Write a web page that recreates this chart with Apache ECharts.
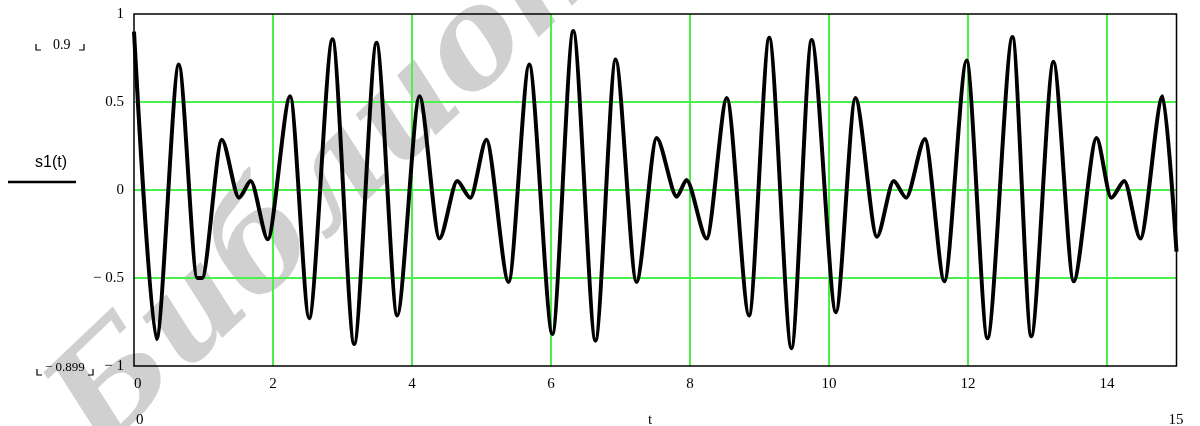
<!DOCTYPE html>
<html>
<head>
<meta charset="utf-8">
<script src="https://cdn.jsdelivr.net/npm/echarts@6/dist/echarts.min.js"></script>
<style>
html,body{margin:0;padding:0;background:#fff;}
#c{width:1200px;height:426px;}
</style>
</head>
<body>
<div id="c"></div>
<script>
// sample times (t) and values s1(t) (extrema and kinks)
const tValues = [0.00, 0.324, 0.645, 0.91, 0.98, 1.264, 1.51, 1.68, 1.925, 2.247, 2.52, 2.856, 3.168, 3.49, 3.787,
  4.108, 4.396, 4.65, 4.84, 5.07, 5.39, 5.686, 6.02, 6.32, 6.64, 6.93, 7.23, 7.52, 7.81, 7.95, 8.24, 8.53,
  8.85, 9.14, 9.46, 9.75, 10.10, 10.38, 10.69, 10.93, 11.11, 11.38, 11.66, 11.98, 12.28, 12.64, 12.91,
  13.23, 13.52, 13.85, 14.06, 14.25, 14.48, 14.80, 15.00];
const s1Values = [0.90, -0.846, 0.713, -0.50, -0.50, 0.285, -0.044, 0.051, -0.28, 0.532, -0.728, 0.856, -0.875, 0.837, -0.713,
  0.532, -0.276, 0.051, -0.044, 0.285, -0.523, 0.713, -0.818, 0.903, -0.856, 0.741, -0.523, 0.295, -0.038, 0.057, -0.276, 0.523,
  -0.713, 0.865, -0.899, 0.852, -0.694, 0.523, -0.266, 0.051, -0.044, 0.29, -0.519, 0.736, -0.842, 0.869, -0.831,
  0.728, -0.519, 0.295, -0.044, 0.051, -0.276, 0.532, -0.35];
const yTickLabels = {'1': '1', '0.5': '0.5', '0': '0', '-0.5': '\u2212 0.5', '-1': '\u2212 1'};
const xTickLabels = ['0', '2', '4', '6', '8', '10', '12', '14'];
const yMaxMark = '0.9';
const yMinMark = '\u2212 0.899';
const xMinMark = '0';
const xMaxMark = '15';
const xName = 't';
const seriesName = 's1(t)';

const chart = echarts.init(document.getElementById('c'), null, {renderer: 'canvas'});
const serif = 'Liberation Serif, Times New Roman, serif';
const data = tValues.map((t, i) => [t, s1Values[i]]);
const G = {left: 134, top: 14, right: 23.5, bottom: 60};
const green = '#4cf04c';

chart.setOption({
  animation: false,
  backgroundColor: '#fff',
  grid: {left: G.left, top: G.top, right: G.right, bottom: G.bottom, show: false},
  xAxis: {
    type: 'value', min: 0, max: 15, interval: 2,
    axisLine: {show: false}, axisTick: {show: false},
    splitLine: {show: true, showMinLine: false, showMaxLine: false, lineStyle: {color: green, width: 2}},
    axisLabel: {
      margin: 11, color: '#000', fontFamily: serif, fontSize: 15,
      formatter: v => { const s = String(v); return xTickLabels.indexOf(s) >= 0 ? (s === '0' ? '  0' : s) : ''; }
    }
  },
  yAxis: {
    type: 'value', min: -1, max: 1, interval: 0.5,
    axisLine: {show: false}, axisTick: {show: false},
    splitLine: {show: true, showMinLine: false, showMaxLine: false, lineStyle: {color: green, width: 2}},
    axisLabel: {margin: 10, color: '#000', fontFamily: serif, fontSize: 15,
      formatter: v => yTickLabels[String(v)] || ''}
  },
  graphic: [
    {type: 'text', z: -10, silent: true, rotation: 0.76, x: 122, y: 478,
      style: {text: 'Библиотека', fontSize: 135, fontFamily: 'DejaVu Serif, serif', fontStyle: 'italic', fontWeight: 'bold',
        fill: 'rgba(120,120,120,0.35)', textAlign: 'left', textVerticalAlign: 'bottom'}},
    {type: 'rect', z: 100, silent: true, shape: {x: G.left, y: G.top, width: 1200 - G.left - G.right, height: 426 - G.top - G.bottom},
      style: {fill: null, stroke: '#000', lineWidth: 1.5}},
    {type: 'text', x: 35, y: 163, style: {text: seriesName, fontSize: 16, fontFamily: 'Liberation Sans, Arial, sans-serif', fill: '#000', textVerticalAlign: 'middle'}},
    {type: 'line', shape: {x1: 8, y1: 182, x2: 76, y2: 182}, style: {stroke: '#000', lineWidth: 2.5}},
    {type: 'text', x: 53, y: 45, style: {text: yMaxMark, fontSize: 14, fontFamily: serif, fill: '#000', textVerticalAlign: 'middle'}},
    {type: 'polyline', shape: {points: [[36, 44], [36, 50], [41, 50]]}, style: {stroke: '#000', lineWidth: 1.2, fill: null}},
    {type: 'polyline', shape: {points: [[79, 50], [84, 50], [84, 44]]}, style: {stroke: '#000', lineWidth: 1.2, fill: null}},
    {type: 'text', x: 45, y: 368, style: {text: yMinMark, fontSize: 13, fontFamily: serif, fill: '#000', textVerticalAlign: 'middle'}},
    {type: 'polyline', shape: {points: [[37, 369], [37, 375], [42, 375]]}, style: {stroke: '#000', lineWidth: 1.2, fill: null}},
    {type: 'polyline', shape: {points: [[88, 375], [93, 375], [93, 369]]}, style: {stroke: '#000', lineWidth: 1.2, fill: null}},
    {type: 'text', x: 136, y: 420, style: {text: xMinMark, fontSize: 15, fontFamily: serif, fill: '#000', textVerticalAlign: 'middle'}},
    {type: 'text', x: 650, y: 420, style: {text: xName, fontSize: 15, fontFamily: serif, fill: '#000', textAlign: 'center', textVerticalAlign: 'middle'}},
    {type: 'text', x: 1176, y: 420, style: {text: xMaxMark, fontSize: 15, fontFamily: serif, fill: '#000', textAlign: 'center', textVerticalAlign: 'middle'}}
  ],
  series: [{
    name: seriesName, type: 'line', data: data, showSymbol: false,
    smooth: 0.27, smoothMonotone: 'x',
    lineStyle: {color: '#000', width: 4}, z: 5
  }]
});
</script>
</body>
</html>
